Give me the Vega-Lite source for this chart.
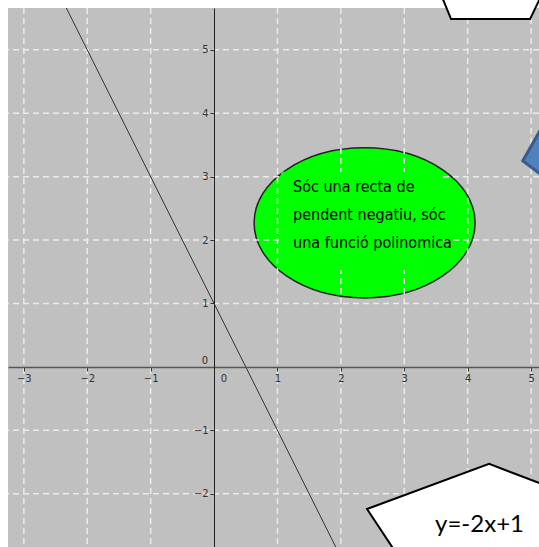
{
  "$schema": "https://vega.github.io/schema/vega-lite/v6.json",
  "width": 531,
  "height": 539,
  "autosize": {"type": "none"},
  "padding": {"left": 8, "top": 8, "right": 0, "bottom": 0},
  "background": "white",
  "config": {"view": {"fill": "#c0c0c0", "stroke": null}},
  "datasets": {
    "gridx": [{"v": -3}, {"v": -2}, {"v": -1}, {"v": 1}, {"v": 2}, {"v": 3}, {"v": 4}, {"v": 5}],
    "gridy": [{"v": -2}, {"v": -1}, {"v": 1}, {"v": 2}, {"v": 3}, {"v": 4}, {"v": 5}],
    "fn": [{"x": -3, "y": 7}, {"x": 3, "y": -5}],
    "ellipse": [{"x": 2.374, "y": 2.271}],
    "box": [{"x": 1.057, "x2": 3.58, "y": 3.076, "y2": 1.53}],
    "note": [{"x": 1.246, "y": 2.76, "t": "Sóc una recta de\npendent negatiu, sóc\nuna funció polinomica"}],
    "origin": [{"x": 0, "y": 0, "t": "0"}],
    "callouts": [
      {"id": "a", "i": 0, "x": 2.413, "y": -2.24},
      {"id": "a", "i": 1, "x": 4.338, "y": -1.53},
      {"id": "a", "i": 2, "x": 6.088, "y": -2.192},
      {"id": "a", "i": 3, "x": 6.088, "y": -3.675},
      {"id": "a", "i": 4, "x": 3.36, "y": -3.675},
      {"id": "b", "i": 0, "x": 3.549, "y": 5.946},
      {"id": "b", "i": 1, "x": 3.738, "y": 5.485},
      {"id": "b", "i": 2, "x": 4.984, "y": 5.485},
      {"id": "b", "i": 3, "x": 5.205, "y": 5.946}
    ],
    "diamond": [
      {"i": 0, "x": 4.87, "y": 3.25},
      {"i": 1, "x": 5.3, "y": 4.006},
      {"i": 2, "x": 6.09, "y": 3.42},
      {"i": 3, "x": 5.457, "y": 2.8}
    ],
    "label": [{"x": 3.486, "y": -2.603, "t": "y=-2x+1"}]
  },
  "layer": [
    {
      "data": {"name": "ellipse"},
      "mark": {"type": "point", "shape": "M-1,0A1,0.679,0,1,1,1,0A1,0.679,0,1,1,-1,0Z", "size": 48841, "filled": true, "fill": "#00ff00", "stroke": "#222222", "strokeWidth": 1.5, "opacity": 1},
      "encoding": {
        "x": {"field": "x", "type": "quantitative", "scale": {"domain": [-3.25, 5.125], "nice": false, "zero": false}},
        "y": {"field": "y", "type": "quantitative", "scale": {"domain": [-2.84, 5.66], "nice": false, "zero": false}}
      }
    },
    {
      "data": {"name": "gridx"},
      "mark": {"type": "rule", "color": "#ebebeb", "strokeWidth": 1.5, "strokeDash": [6, 4]},
      "encoding": {
        "x": {"field": "v", "type": "quantitative", "scale": {"domain": [-3.25, 5.125], "nice": false, "zero": false},
          "axis": {"values": [-3, -2, -1, 1, 2, 3, 4, 5], "format": "d", "offset": -180, "title": null, "grid": false, "domainColor": "#555555", "domainWidth": 1.5, "tickColor": "#333333", "tickSize": 4, "labelFontSize": 10, "labelColor": "#333333", "labelFont": "DejaVu Sans", "labelPadding": 2, "labelFlush": false, "labelOverlap": false, "zindex": 1}}
      }
    },
    {
      "data": {"name": "gridy"},
      "mark": {"type": "rule", "color": "#ebebeb", "strokeWidth": 1.5, "strokeDash": [6, 4]},
      "encoding": {
        "y": {"field": "v", "type": "quantitative", "scale": {"domain": [-2.84, 5.66], "nice": false, "zero": false},
          "axis": {"values": [-2, -1, 1, 2, 3, 4, 5], "format": "d", "offset": -206, "title": null, "grid": false, "domainColor": "#222222", "domainWidth": 1, "tickColor": "#333333", "tickSize": 4, "labelFontSize": 10, "labelColor": "#333333", "labelFont": "DejaVu Sans", "labelPadding": 2, "labelFlush": false, "labelOverlap": false, "zindex": 1}}
      }
    },
    {
      "data": {"name": "box"},
      "mark": {"type": "rect", "fill": "#00ff00"},
      "encoding": {
        "x": {"field": "x", "type": "quantitative", "scale": {"domain": [-3.25, 5.125], "nice": false, "zero": false}},
        "x2": {"field": "x2"},
        "y": {"field": "y", "type": "quantitative", "scale": {"domain": [-2.84, 5.66], "nice": false, "zero": false}},
        "y2": {"field": "y2"}
      }
    },
    {
      "data": {"name": "note"},
      "mark": {"type": "text", "align": "left", "baseline": "alphabetic", "lineBreak": "\n", "lineHeight": 28, "fontSize": 16, "font": "Liberation Sans Narrow, DejaVu Sans Condensed, sans-serif", "color": "#000000"},
      "encoding": {
        "x": {"field": "x", "type": "quantitative", "scale": {"domain": [-3.25, 5.125], "nice": false, "zero": false}},
        "y": {"field": "y", "type": "quantitative", "scale": {"domain": [-2.84, 5.66], "nice": false, "zero": false}},
        "text": {"field": "t"}
      }
    },
    {
      "data": {"name": "fn"},
      "mark": {"type": "line", "color": "#333333", "strokeWidth": 1, "clip": true},
      "encoding": {
        "x": {"field": "x", "type": "quantitative", "scale": {"domain": [-3.25, 5.125], "nice": false, "zero": false}},
        "y": {"field": "y", "type": "quantitative", "scale": {"domain": [-2.84, 5.66], "nice": false, "zero": false}}
      }
    },
    {
      "data": {"name": "origin"},
      "mark": {"type": "text", "dx": -9, "dy": -6, "fontSize": 10, "font": "DejaVu Sans", "color": "#333333", "align": "center", "baseline": "middle"},
      "encoding": {
        "x": {"field": "x", "type": "quantitative", "scale": {"domain": [-3.25, 5.125], "nice": false, "zero": false}},
        "y": {"field": "y", "type": "quantitative", "scale": {"domain": [-2.84, 5.66], "nice": false, "zero": false}},
        "text": {"field": "t"}
      }
    },
    {
      "data": {"name": "origin"},
      "mark": {"type": "text", "dx": 10, "dy": 12, "fontSize": 10, "font": "DejaVu Sans", "color": "#333333", "align": "center", "baseline": "middle"},
      "encoding": {
        "x": {"field": "x", "type": "quantitative", "scale": {"domain": [-3.25, 5.125], "nice": false, "zero": false}},
        "y": {"field": "y", "type": "quantitative", "scale": {"domain": [-2.84, 5.66], "nice": false, "zero": false}},
        "text": {"field": "t"}
      }
    },
    {
      "data": {"name": "callouts"},
      "mark": {"type": "line", "interpolate": "linear-closed", "fill": "#ffffff", "stroke": "#000000", "strokeWidth": 2, "strokeJoin": "miter"},
      "encoding": {
        "x": {"field": "x", "type": "quantitative", "scale": {"domain": [-3.25, 5.125], "nice": false, "zero": false}},
        "y": {"field": "y", "type": "quantitative", "scale": {"domain": [-2.84, 5.66], "nice": false, "zero": false}},
        "detail": {"field": "id"},
        "order": {"field": "i", "type": "quantitative"}
      }
    },
    {
      "data": {"name": "diamond"},
      "mark": {"type": "line", "interpolate": "linear-closed", "fill": "#4f81bd", "stroke": "#385d8a", "strokeWidth": 3, "strokeJoin": "miter"},
      "encoding": {
        "x": {"field": "x", "type": "quantitative", "scale": {"domain": [-3.25, 5.125], "nice": false, "zero": false}},
        "y": {"field": "y", "type": "quantitative", "scale": {"domain": [-2.84, 5.66], "nice": false, "zero": false}},
        "order": {"field": "i", "type": "quantitative"}
      }
    },
    {
      "data": {"name": "label"},
      "mark": {"type": "text", "align": "left", "baseline": "alphabetic", "fontSize": 24, "font": "Lato", "color": "#000000"},
      "encoding": {
        "x": {"field": "x", "type": "quantitative", "scale": {"domain": [-3.25, 5.125], "nice": false, "zero": false}},
        "y": {"field": "y", "type": "quantitative", "scale": {"domain": [-2.84, 5.66], "nice": false, "zero": false}},
        "text": {"field": "t"}
      }
    }
  ]
}
